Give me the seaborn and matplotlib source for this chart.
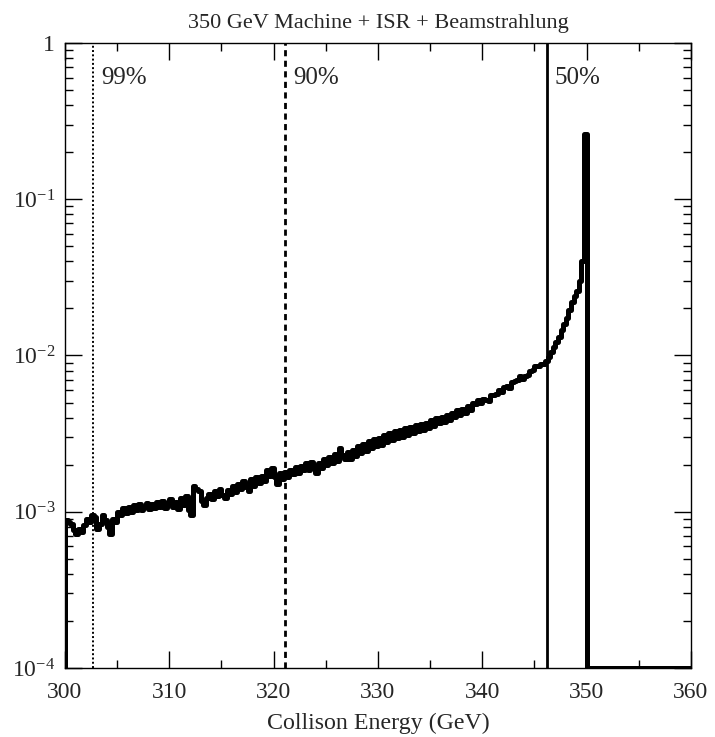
import numpy as np
import pandas as pd
import matplotlib
matplotlib.use("Agg")
import matplotlib.pyplot as plt
import seaborn as sns
from matplotlib.ticker import FixedLocator, FuncFormatter

# luminosity spectrum, per 0.25 GeV bin from 300 to 350 GeV (units of 1e-3)
lumi_e3 = [
    0.88, 0.86, 0.84, 0.76, 0.72, 0.78, 0.74, 0.82,
    0.90, 0.86, 0.96, 0.93, 0.78, 0.84, 0.96, 0.88,
    0.80, 0.72, 0.90, 0.86, 1.00, 0.96, 1.06, 0.98,
    1.08, 1.00, 1.10, 1.03, 1.12, 1.02, 1.08, 1.14,
    1.04, 1.12, 1.06, 1.16, 1.08, 1.18, 1.06, 1.14,
    1.20, 1.08, 1.16, 1.04, 1.22, 1.10, 1.26, 1.02,
    0.96, 1.46, 1.40, 1.36, 1.18, 1.10, 1.22, 1.30,
    1.20, 1.36, 1.26, 1.40, 1.28, 1.22, 1.38, 1.30,
    1.46, 1.34, 1.50, 1.40, 1.58, 1.44, 1.36, 1.62,
    1.46, 1.66, 1.52, 1.70, 1.58, 1.84, 1.70, 1.90,
    1.66, 1.50, 1.76, 1.62, 1.80, 1.68, 1.86, 1.74,
    1.92, 1.76, 1.96, 1.84, 2.04, 1.86, 2.08, 1.90,
    1.78, 2.06, 1.90, 2.18, 1.98, 2.24, 2.04, 2.34,
    2.10, 2.56, 2.30, 2.16, 2.42, 2.18, 2.50, 2.28,
    2.62, 2.36, 2.70, 2.44, 2.82, 2.54, 2.90, 2.62,
    2.98, 2.68, 3.10, 2.80, 3.20, 2.88, 3.28, 2.98,
    3.34, 3.02, 3.44, 3.10, 3.50, 3.20, 3.58, 3.30,
    3.64, 3.34, 3.72, 3.44, 3.86, 3.56, 3.98, 3.68,
    4.06, 3.74, 4.18, 3.88, 4.30, 4.02, 4.46, 4.16,
    4.56, 4.28, 4.74, 4.46, 4.94, 4.86, 5.20, 4.94,
    5.30, 5.20, 5.14, 5.58, 5.60, 5.70, 5.98, 5.86,
    6.30, 6.34, 6.16, 6.78, 6.84, 6.98, 7.36, 7.04,
    7.44, 7.54, 7.94, 8.04, 8.54, 8.54, 8.84, 8.84,
    9.20, 9.80, 10.6, 11.4, 12.2, 13.2, 14.6, 15.8,
    17.4, 19.6, 22.0, 24.0, 26.0, 30.0, 40.0, 262.0,
]
# empty region 350-360 sits on the plot floor
empty_value = 1e-4

cut_energy = [302.7, 321.1, 346.2]
cut_label = ["99%", "90%", "50%"]
cut_style = [(0, (1, 1.2)), (0, (2.2, 1.6)), "-"]
cut_width = [1.4, 2.0, 2.0]

bin_edges = list(np.arange(300, 350.001, 0.25)) + [360.0]
centers = [(a + b) / 2 for a, b in zip(bin_edges[:-1], bin_edges[1:])]
weights = [v * 1e-3 for v in lumi_e3] + [empty_value]
df = pd.DataFrame({"energy": centers, "lumi": weights})

sns.set_style("ticks")
plt.rcParams["font.family"] = ["Liberation Serif", "DejaVu Serif"]
plt.rcParams["mathtext.fontset"] = "stix"

fig = plt.figure(figsize=(7.15, 7.37), dpi=100)
ax = fig.add_axes([0.0909, 0.0936, 0.8755, 0.8481])

sns.histplot(data=df, x="energy", weights="lumi", bins=bin_edges,
             element="step", fill=True, color="black", linewidth=3.6, ax=ax)
for coll in ax.collections:
    coll.set_facecolor("none")
    coll.set_edgecolor("black")

ax.set_yscale("log")
ax.set_xlim(300, 360)
ax.set_ylim(1e-4, 1)

for e, lab, ls, lw in zip(cut_energy, cut_label, cut_style, cut_width):
    ax.axvline(e, color="black", linestyle=ls, linewidth=lw)
    ax.text(e + 0.75, 0.60, lab, fontsize=18, ha="left", va="center")

ax.set_xticks([300, 310, 320, 330, 340, 350, 360])
ax.xaxis.set_minor_locator(FixedLocator([305, 315, 325, 335, 345, 355]))
ax.set_yticks([1e-4, 1e-3, 1e-2, 1e-1, 1])
ax.yaxis.set_minor_locator(FixedLocator(
    [m * 10.0 ** k for k in range(-4, 0) for m in range(2, 10)]))
ax.yaxis.set_major_formatter(FuncFormatter(
    lambda v, p: "1" if v >= 1 else r"$\mathregular{10^{%d}}$" % round(np.log10(v))))
ax.tick_params(which="both", direction="in", top=True, right=True,
               labelsize=17, width=1, color="black")
ax.tick_params(axis="x", which="major", length=12, pad=10)
ax.tick_params(axis="y", which="major", length=12, pad=7)
ax.tick_params(which="minor", length=6)

for s in ax.spines.values():
    s.set_linewidth(1)
    s.set_color("black")

ax.set_xlabel("Collison Energy (GeV)", fontsize=17.2, labelpad=7)
ax.set_ylabel("")
ax.set_title("350 GeV Machine + ISR + Beamstrahlung", fontsize=16, pad=11)

fig.savefig("out.png", dpi=100)
